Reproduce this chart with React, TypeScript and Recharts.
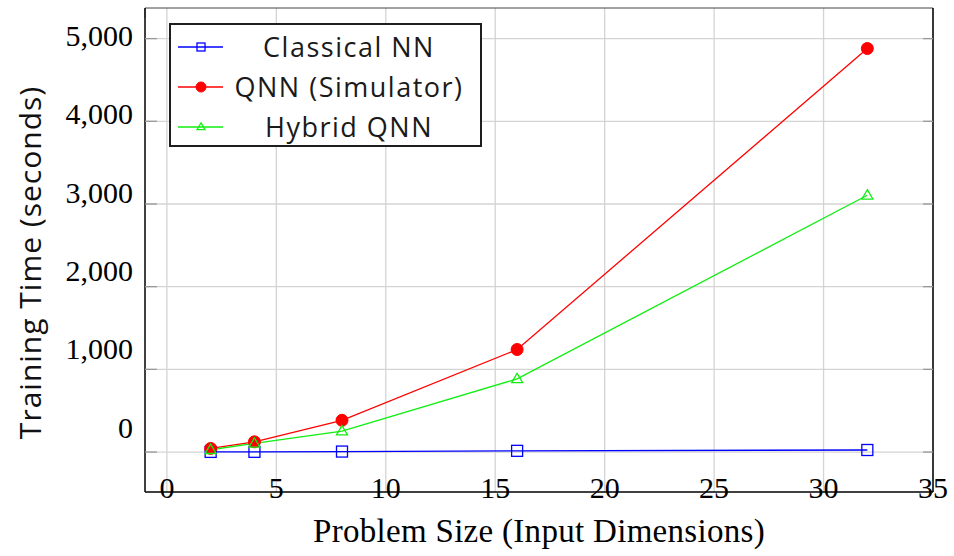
import React from 'react';
import { LineChart, Line, XAxis, YAxis, CartesianGrid, Legend } from 'recharts';

// ---- data ----
const problemSizes = [2, 4, 8, 16, 32];
const classicalNN = [2, 3, 6, 15, 25];
const qnnSimulator = [44, 124, 384, 1240, 4880];
const hybridQNN = [28, 105, 252, 885, 3105];

const xTicks = [0, 5, 10, 15, 20, 25, 30, 35];
const yTicks = [0, 1000, 2000, 3000, 4000, 5000];

const seriesNames = ['Classical NN', 'QNN (Simulator)', 'Hybrid QNN'];
const seriesKeys = ['classical', 'qnn', 'hybrid'];
const seriesColors = ['#0000ff', '#ff0000', '#11ee11'];
const seriesMarkers = ['square', 'circle', 'triangle'];

const data = problemSizes.map((x, i) => ({
  x,
  classical: classicalNN[i],
  qnn: qnnSimulator[i],
  hybrid: hybridQNN[i],
}));

const SERIF = '"Liberation Serif", "Times New Roman", serif';
const SANS = '"Open Sans", "Noto Sans", sans-serif';

function marker(kind: string, cx: number, cy: number, color: string, s: number, key?: string) {
  if (kind === 'square') {
    return <rect key={key} x={cx - s / 2} y={cy - s / 2} width={s} height={s} fill="none" stroke={color} strokeWidth={1.3} />;
  }
  if (kind === 'circle') {
    return <circle key={key} cx={cx} cy={cy} r={s / 2} fill={color} stroke={color} />;
  }
  const h = s * 0.85;
  return (
    <polygon
      key={key}
      points={`${cx},${cy - h * 0.6} ${cx + s / 2},${cy + h * 0.4} ${cx - s / 2},${cy + h * 0.4}`}
      fill="none"
      stroke={color}
      strokeWidth={1.3}
    />
  );
}

const makeDot = (idx: number) => (props: any) => {
  const { cx, cy, index } = props;
  const size = seriesMarkers[idx] === 'circle' ? 12 : 11;
  return marker(seriesMarkers[idx], cx, cy, seriesColors[idx], size, `dot-${idx}-${index}`);
};

const renderLegend = (props: any) => {
  const payload = [...((props && props.payload) || [])].sort(
    (a: any, b: any) => seriesNames.indexOf(a.value) - seriesNames.indexOf(b.value)
  );
  return (
    <div
      style={{
        boxSizing: 'border-box',
        width: 313,
        height: 124,
        border: '2px solid #1e1e1e',
        background: '#fff',
        paddingTop: 2,
      }}
    >
      {payload.map((entry: any, i: number) => {
        const idx = Math.max(0, seriesNames.indexOf(entry.value));
        const small = seriesMarkers[idx] === 'circle' ? 10 : 8;
        return (
          <div key={i} style={{ position: 'relative', height: 40 }}>
            <svg width={60} height={40} style={{ position: 'absolute', left: 0, top: 0 }}>
              <line x1={7} x2={52} y1={20} y2={20} stroke={seriesColors[idx]} strokeWidth={1.3} />
              {marker(seriesMarkers[idx], 30, 20, seriesColors[idx], small)}
            </svg>
            <div
              style={{
                position: 'absolute',
                left: 47,
                right: 0,
                top: 0,
                height: 40,
                lineHeight: '40px',
                textAlign: 'center',
                fontFamily: SANS,
                fontSize: 27,
                letterSpacing: 1.5,
                color: '#1a1a1a',
                whiteSpace: 'nowrap',
              }}
            >
              {entry.value}
            </div>
          </div>
        );
      })}
    </div>
  );
};

const renderXTick = (props: any) => (
  <text x={props.x} y={props.y} dy={6} textAnchor="middle" fontFamily={SERIF} fontSize={30} fill="#000">
    {props.payload.value}
  </text>
);

const renderYTick = (props: any) => (
  <text x={props.x - 12} y={props.y} dy="0.35em" textAnchor="end" fontFamily={SERIF} fontSize={30} fill="#000">
    {Number(props.payload.value).toLocaleString('en-US')}
  </text>
);

const renderNoTick = () => <g />;

const renderXTitle = (props: any) => {
  const vb = props.viewBox || { x: 145, y: 492, width: 788, height: 30 };
  return (
    <text
      x={vb.x + vb.width / 2}
      y={vb.y + 49.7}
      textAnchor="middle"
      fontFamily={SERIF}
      fontSize={33}
      letterSpacing={0.3}
      fill="#000"
    >
      Problem Size (Input Dimensions)
    </text>
  );
};

const renderYTitle = (props: any) => {
  const vb = props.viewBox || { x: 0, y: 8, width: 145, height: 484 };
  const cx = vb.x + 41;
  const cy = vb.y + vb.height / 2 + 12.5;
  return (
    <text
      x={cx}
      y={cy}
      transform={`rotate(-90, ${cx}, ${cy})`}
      textAnchor="middle"
      fontFamily={SANS}
      fontSize={30}
      letterSpacing={1}
      fill="#111"
    >
      Training Time (seconds)
    </text>
  );
};

export default function App() {
  return (
    <div style={{ position: 'absolute', left: 0, top: 0, width: 954, height: 556, background: '#fff' }}>
      <LineChart width={954} height={556} data={data} margin={{ top: 8, right: 21, left: 0, bottom: 34 }}>
        <CartesianGrid
          xAxisId="b"
          yAxisId="main"
          stroke="#d4d4d4"
          strokeWidth={1.3}
          horizontalValues={yTicks}
          verticalValues={xTicks}
        />
        <XAxis
          xAxisId="b"
          dataKey="x"
          type="number"
          domain={[-1, 35]}
          ticks={xTicks}
          allowDataOverflow
          height={30}
          axisLine={{ stroke: '#000', strokeWidth: 1.5 }}
          tickLine={false}
          tickSize={0}
          tickMargin={0}
          tick={renderXTick}
          interval={0}
          label={renderXTitle}
        />
        <XAxis
          xAxisId="t"
          orientation="top"
          mirror
          type="number"
          domain={[-1, 35]}
          ticks={xTicks}
          allowDataOverflow
          axisLine={{ stroke: '#444', strokeWidth: 1 }}
          tickLine={{ stroke: '#999', strokeWidth: 1.3 }}
          tickSize={10}
          tick={renderNoTick}
          interval={0}
        />
        <YAxis
          yAxisId="lab"
          type="number"
          domain={[-829, 5350]}
          ticks={yTicks}
          allowDataOverflow
          width={145}
          axisLine={{ stroke: '#000', strokeWidth: 1.5 }}
          tickLine={false}
          tickSize={0}
          tickMargin={0}
          tick={renderYTick}
          interval={0}
          label={renderYTitle}
        />
        <YAxis
          yAxisId="mainL"
          orientation="left"
          mirror
          type="number"
          domain={[-483, 5370]}
          ticks={yTicks}
          allowDataOverflow
          axisLine={false}
          tickLine={{ stroke: '#999', strokeWidth: 1.3 }}
          tickSize={12}
          tick={renderNoTick}
          interval={0}
        />
        <YAxis
          yAxisId="main"
          orientation="right"
          mirror
          type="number"
          domain={[-483, 5370]}
          ticks={yTicks}
          allowDataOverflow
          axisLine={{ stroke: '#000', strokeWidth: 1.5 }}
          tickLine={{ stroke: '#999', strokeWidth: 1.3 }}
          tickSize={10}
          tick={renderNoTick}
          interval={0}
        />
        <Legend
          layout="vertical"
          align="center"
          verticalAlign="middle"
          wrapperStyle={{ position: 'absolute', left: 169, top: 23, width: 313, height: 124 }}
          content={renderLegend}
        />
        {seriesKeys.map((k, i) => (
          <Line
            key={k}
            xAxisId="b"
            yAxisId="main"
            type="linear"
            dataKey={k}
            name={seriesNames[i]}
            stroke={seriesColors[i]}
            strokeWidth={1.3}
            dot={makeDot(i)}
            activeDot={false}
            isAnimationActive={false}
          />
        ))}
      </LineChart>
    </div>
  );
}
